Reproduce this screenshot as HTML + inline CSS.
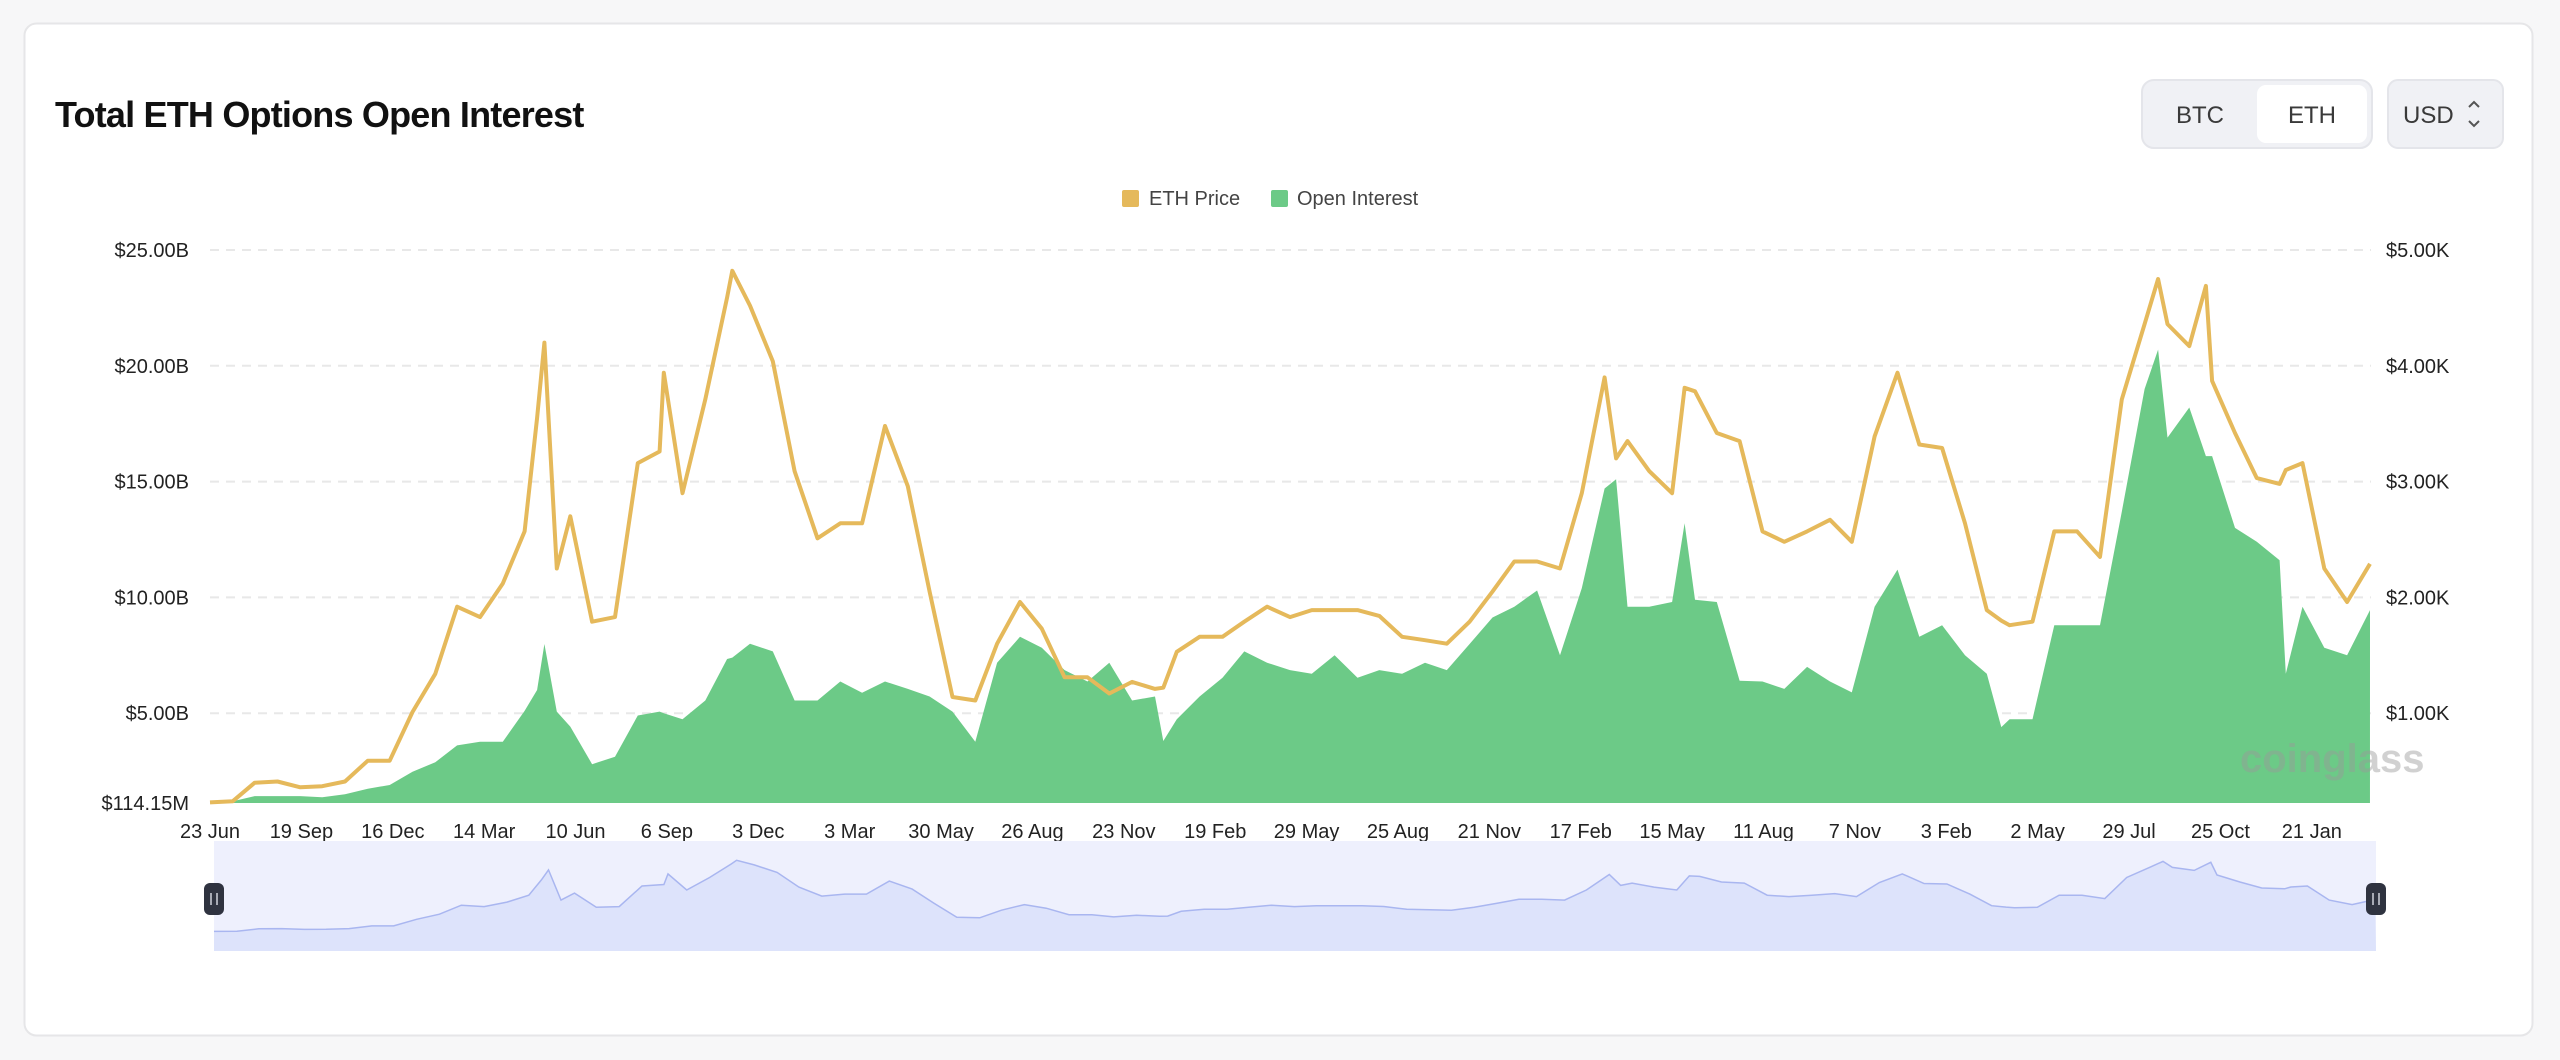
<!DOCTYPE html>
<html><head><meta charset="utf-8"><style>
html,body{margin:0;padding:0;background:#f7f7f8;}
body{width:2560px;height:1055px;overflow:hidden;font-family:"Liberation Sans",sans-serif;}
svg text{font-family:"Liberation Sans",sans-serif;}
</style></head><body>
<svg id="chart" width="2560" height="1055" viewBox="0 0 2560 1055" xmlns="http://www.w3.org/2000/svg">
<rect x="24.5" y="23.5" width="2508" height="1012" rx="12" fill="#fff" stroke="#e6e6e8" stroke-width="2"/>
<text x="55" y="127" font-size="36" font-weight="bold" fill="#111" letter-spacing="-0.8">Total ETH Options Open Interest</text>
<g>
<rect x="2142" y="80" width="230" height="68" rx="12" fill="#f0f1f5" stroke="#e4e5ea" stroke-width="2"/>
<rect x="2257" y="85" width="110" height="58" rx="9" fill="#fff"/>
<text x="2200" y="123" font-size="24" fill="#3a3a3a" text-anchor="middle">BTC</text>
<text x="2312" y="123" font-size="24" fill="#3a3a3a" text-anchor="middle">ETH</text>
</g>
<g>
<rect x="2388" y="80" width="115" height="68" rx="10" fill="#f0f1f5" stroke="#e4e5ea" stroke-width="2"/>
<text x="2403" y="123" font-size="24" fill="#3a3a3a">USD</text>
<path d="M2469 107 l5 -5 l5 5 M2469 121 l5 5 l5 -5" stroke="#555" stroke-width="2" fill="none"/>
</g>
<g>
<rect x="1122" y="190" width="17" height="17" rx="2" fill="#e5b95b"/>
<text x="1149" y="205" font-size="20" fill="#444">ETH Price</text>
<rect x="1271" y="190" width="17" height="17" rx="2" fill="#6cca87"/>
<text x="1297" y="205" font-size="20" fill="#444">Open Interest</text>
</g>
<g id="grid"></g>
<g id="oiLayer"></g>
<text x="2240" y="772" font-size="40" fill="#9a9a9a" fill-opacity="0.45" font-weight="bold">coinglass</text>
<g id="priceLayer"></g>
<g id="axes"></g>
<g id="nav"></g>
</svg>
<script>
const days   = [0,22,43,65,87,108,130,152,173,195,217,238,260,282,303,315,322,334,347,368,390,412,433,437,455,477,498,503,520,
 542,563,585,607,628,650,672,693,715,737,758,780,801,823,845,866,888,910,918,931,953,975,996,1018,1040,
 1061,1083,1105,1126,1148,1170,1191,1213,1235,1256,1278,1300,1321,1343,1354,1365,1386,1408,1420,1430,1451,1473,1495,1516,1538,1560,
 1581,1603,1625,1646,1668,1690,1711,1725,1733,1755,1776,1798,1820,1841,1863,1876,1885,1906,1922,1928,1950,1971,1993,1999,2015,2036,2058,2080];
const priceK = [0.23,0.24,0.40,0.41,0.36,0.37,0.41,0.59,0.59,1.01,1.34,1.92,1.83,2.12,2.57,3.55,4.20,2.25,2.70,1.79,1.83,3.16,3.26,3.94,2.90,3.71,4.59,4.82,4.52,
 4.04,3.09,2.51,2.64,2.64,3.48,2.96,2.05,1.14,1.11,1.60,1.96,1.73,1.31,1.31,1.17,1.27,1.21,1.22,1.53,1.66,1.66,1.79,1.92,1.83,
 1.89,1.89,1.89,1.84,1.66,1.63,1.60,1.79,2.05,2.31,2.31,2.25,2.90,3.90,3.20,3.35,3.09,2.90,3.81,3.78,3.42,3.35,2.57,2.48,2.57,2.67,
 2.48,3.39,3.94,3.32,3.29,2.64,1.89,1.80,1.76,1.79,2.57,2.57,2.35,3.71,4.36,4.75,4.36,4.17,4.69,3.87,3.42,3.03,2.98,3.10,3.16,2.25,1.96,2.29];
const oiB    = [1.15,1.2,1.42,1.42,1.42,1.37,1.50,1.74,1.90,2.47,2.88,3.61,3.77,3.77,5.1,6.0,7.99,5.07,4.42,2.80,3.12,4.9,5.07,5.0,4.74,5.55,7.34,7.4,8.0,
 7.67,5.55,5.55,6.37,5.88,6.37,6.05,5.72,5.07,3.77,7.18,8.3,7.83,6.86,6.37,7.18,5.55,5.72,3.8,4.74,5.72,6.53,7.67,7.18,6.86,
 6.70,7.5,6.53,6.86,6.70,7.18,6.86,7.99,9.13,9.6,10.3,7.5,10.4,14.7,15.1,9.6,9.6,9.8,13.2,9.9,9.8,6.4,6.37,6.05,7.0,6.37,
 5.9,9.6,11.2,8.3,8.8,7.5,6.7,4.4,4.74,4.74,8.8,8.8,8.8,13.7,19.0,20.7,16.9,18.2,16.1,16.1,13.0,12.4,11.6,6.7,9.6,7.83,7.5,9.45];
const leftTicks  = [5,10,15,20,25];
const leftLabels = ["$5.00B","$10.00B","$15.00B","$20.00B","$25.00B"];
const rightTicks = [1,2,3,4,5];
const rightLabels= ["$1.00K","$2.00K","$3.00K","$4.00K","$5.00K"];
const xLabels = ["23 Jun","19 Sep","16 Dec","14 Mar","10 Jun","6 Sep","3 Dec","3 Mar","30 May","26 Aug","23 Nov","19 Feb","29 May","25 Aug","21 Nov","17 Feb","15 May","11 Aug","7 Nov","3 Feb","2 May","29 Jul","25 Oct","21 Jan"];
const xLabelStep = 88;
const bottomLabel = "$114.15M";
const maxDay = 2081;

const NS="http://www.w3.org/2000/svg";
const PL=210, PR=2371, PB=803, ZERO=829;
const xS = d => PL + d*(PR-PL)/maxDay;
const yOI = b => Math.min(PB, ZERO - b*23.16);
const yP = k => Math.min(PB, ZERO - k*115.8);
function mk(tag, attrs, parent){const e=document.createElementNS(NS,tag);for(const k in attrs)e.setAttribute(k,attrs[k]);parent.appendChild(e);return e;}
const grid=document.getElementById('grid'), axes=document.getElementById('axes');
leftTicks.forEach((t,i)=>{
  const y=ZERO-t*23.16;
  const l=mk('line',{x1:PL,x2:PR,y1:y,y2:y,stroke:'#e8e8e8','stroke-width':2,'stroke-dasharray':'9 7'},grid);
  
  
  const tx=mk('text',{x:189,y:y+7,'font-size':20,fill:'#222','text-anchor':'end'},axes);
  tx.textContent=leftLabels[i];
  
  
});
const bl=mk('text',{x:189,y:PB+7,'font-size':20,fill:'#222','text-anchor':'end'},axes);
bl.textContent=bottomLabel;


rightTicks.forEach((t,i)=>{
  const tx=mk('text',{x:2386,y:ZERO-t*115.8+7,'font-size':20,fill:'#222'},axes);
  tx.textContent=rightLabels[i];
  
  
});
xLabels.forEach((s,i)=>{
  const tx=mk('text',{x:xS(i*xLabelStep),y:838,'font-size':20,fill:'#222','text-anchor':'middle'},axes);
  tx.textContent=s;
  
  
});
let d='M'+xS(days[0])+' '+PB;
days.forEach((dd,i)=>{d+=' L'+xS(dd).toFixed(1)+' '+yOI(oiB[i]).toFixed(1);});
d+=' L'+xS(days[days.length-1])+' '+PB+' Z';
const area=mk('path',{d:d,fill:'#6cca87'},document.getElementById('oiLayer'));


let pd='';
days.forEach((dd,i)=>{pd+=(i?' L':'M')+xS(dd).toFixed(1)+' '+yP(priceK[i]).toFixed(1);});
const line=mk('path',{d:pd,fill:'none',stroke:'#e5b95b','stroke-width':4,'stroke-linejoin':'round'},document.getElementById('priceLayer'));


const nav=document.getElementById('nav');
const NL=214, NR=2376, NT=841, NB=951;
const nx = dd => NL + dd*(NR-NL)/maxDay;
const ny = k => 935 - k*15.5;
const bg=mk('rect',{x:NL,y:NT,width:NR-NL,height:NB-NT,fill:'#eef0fd'},nav);


let nd='M'+NL+' '+NB;
days.forEach((dd,i)=>{nd+=' L'+nx(dd).toFixed(1)+' '+ny(priceK[i]).toFixed(1);});
nd+=' L'+NR+' '+NB+' Z';
const na=mk('path',{d:nd,fill:'#dde3fb'},nav);


let nl='';
days.forEach((dd,i)=>{nl+=(i?' L':'M')+nx(dd).toFixed(1)+' '+ny(priceK[i]).toFixed(1);});
const nline=mk('path',{d:nl,fill:'none',stroke:'#a9b6f0','stroke-width':1.5},nav);


[NL,NR].forEach((hx,i)=>{
  const h=mk('rect',{x:hx-10,y:883,width:20,height:32,rx:6,fill:'#2f3340'},nav);
  
  
  mk('path',{d:'M'+(hx-3)+' 893 v12 M'+(hx+3)+' 893 v12',stroke:'#cfd2da','stroke-width':1.5},nav);
});
</script>
</body></html>
